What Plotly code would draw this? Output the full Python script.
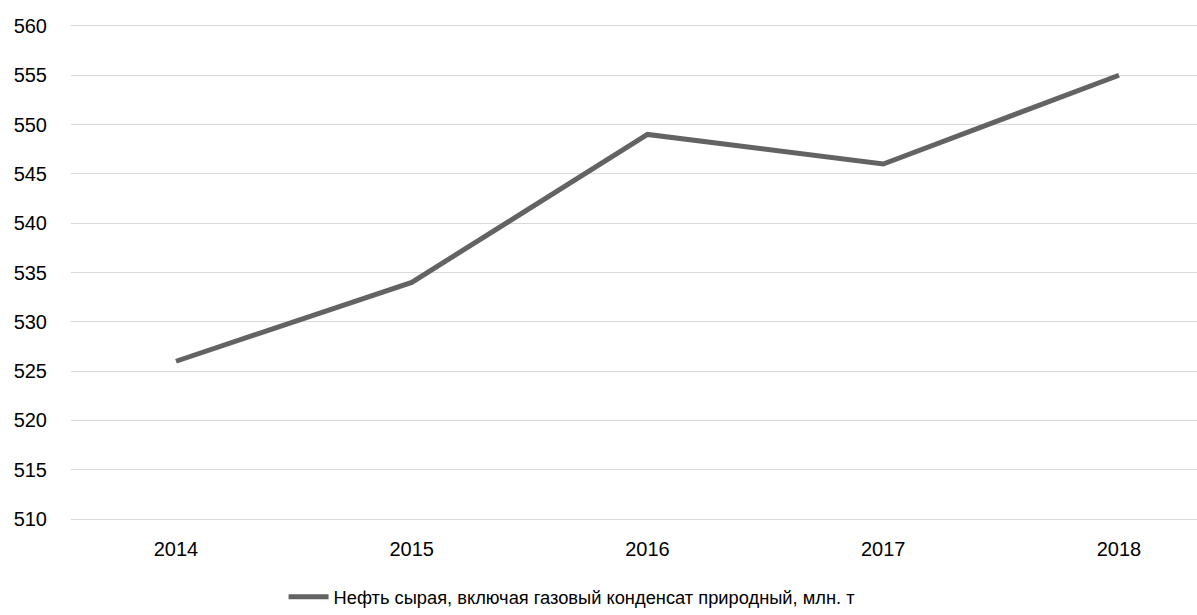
import plotly.graph_objects as go

years = ["2014", "2015", "2016", "2017", "2018"]
values = [526, 534, 549, 546, 555]
series_name = "Нефть сырая, включая газовый конденсат природный, млн. т"
y_ticks = list(range(510, 561, 5))

fig = go.Figure()
fig.add_trace(go.Scatter(
    x=years, y=values, mode="lines", name=series_name,
    line=dict(color="#636363", width=5),
))

fig.update_layout(
    width=1197, height=615,
    margin=dict(l=71, r=0, t=23, b=93, autoexpand=False),
    paper_bgcolor="white", plot_bgcolor="white",
    font=dict(family="Liberation Sans, Arial, sans-serif", size=20, color="#000000"),
    showlegend=True,
    legend=dict(orientation="h", x=0.445, xanchor="center", y=-0.150, yanchor="middle",
                font=dict(size=18.3), itemwidth=40),
    xaxis=dict(type="category", range=[-0.4454, 4.331], showgrid=False, showline=False,
               ticks="", ticklabelstandoff=13, fixedrange=True, automargin=False),
    yaxis=dict(range=[509.7, 560.3], tickvals=y_ticks, showgrid=True, gridcolor="#d9d9d9",
               gridwidth=1, zeroline=False, showline=False, ticks="",
               ticklabelstandoff=23, automargin=False),
)

fig.write_html("out.html")
